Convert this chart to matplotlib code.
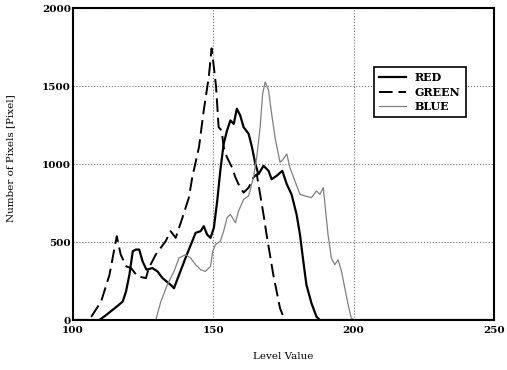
import matplotlib.pyplot as plt

# level value / pixel count
red_x = [100, 109.4, 111.8, 114.8, 117.7, 118.9, 120.1, 121.3, 122.4, 123.6, 124.8, 126.2,
         128.3, 130.1, 131.9, 134.8, 136.0, 137.8, 140.1, 142.5, 143.7, 145.5, 146.6,
         147.8, 149.0, 150.2, 151.4, 152.5, 153.7, 154.9, 156.1, 157.3, 158.4, 159.6,
         160.8, 162.6, 163.8, 165.0, 166.1, 167.9, 169.7, 170.8, 172.6, 174.6, 176.2,
         177.9, 179.7, 180.9, 182.1, 183.2, 185.0, 186.8, 188.0, 250]
red_y = [0, 0, 32, 75, 118, 183, 290, 441, 452, 452, 376, 323,
         333, 312, 269, 226, 204, 290, 398, 505, 559, 570, 602,
         548, 527, 591, 763, 957, 1129, 1215, 1280, 1258, 1355, 1312,
         1237, 1194, 1108, 1000, 935, 989, 957, 903, 925, 957, 871,
         806, 677, 548, 376, 226, 108, 21, 0, 0]

green_x = [100, 105.3, 106.5, 110.0, 113.0, 114.8, 115.6, 117.0, 119.0, 120.7, 123.0, 126.0,
           127.0, 129.5, 133.0, 134.8, 136.6, 139.0, 141.3, 142.5, 144.9, 146.6, 148.4,
           149.4, 150.2, 151.0, 151.9, 153.0, 153.7, 154.9, 156.7, 157.9, 159.0, 160.8,
           162.6, 164.3, 165.5, 166.7, 167.9, 169.0, 170.2, 171.4, 172.6, 173.8, 175.0,
           176.0, 250]
green_y = [0, 0, 21, 118, 290, 462, 538, 420, 344, 333, 280, 269,
           333, 420, 505, 570, 527, 656, 785, 914, 1108, 1344, 1559,
           1742, 1624, 1495, 1237, 1215, 1108, 1043, 978, 914, 871, 817,
           849, 914, 935, 806, 677, 548, 419, 290, 183, 75, 21,
           0, 0]

blue_x = [100, 129.5, 131.3, 133.6, 136.0, 137.8, 140.1, 141.9, 143.7, 145.5, 147.2, 149.0,
          149.8, 150.8, 152.5, 153.7, 154.9, 156.1, 157.9, 159.0, 160.8, 162.6, 164.3,
          165.5, 166.7, 167.6, 168.5, 169.7, 170.8, 172.0, 173.8, 175.0, 176.2, 177.3,
          179.1, 180.9, 182.7, 185.0, 186.8, 188.0, 189.2, 189.7, 190.9, 192.1, 193.3,
          194.5, 195.7, 196.9, 198.1, 199.2, 200.4, 250]
blue_y = [0, 0, 118, 226, 312, 398, 419, 398, 355, 323, 312, 344,
          441, 484, 505, 570, 656, 677, 624, 699, 774, 796, 914,
          1043, 1237, 1452, 1527, 1473, 1323, 1172, 1011, 1032, 1065, 978,
          892, 806, 796, 785, 828, 806, 849, 763, 548, 398, 355,
          387, 312, 204, 97, 11, 0, 0]

plt.rcParams['font.family'] = ['DejaVu Serif']

fig = plt.figure(figsize=(5.07, 3.70), dpi=100)
ax = fig.add_axes([0.144, 0.135, 0.830, 0.843])

ax.plot(red_x, red_y, color='black', lw=1.6, label='RED')
ax.plot(green_x, green_y, color='black', lw=1.4, ls=(0, (7, 3)), label='GREEN')
ax.plot(blue_x, blue_y, color='0.5', lw=0.9, label='BLUE')

ax.set_xlim(100, 250)
ax.set_ylim(0, 2000)
ax.set_xticks([100, 150, 200, 250])
ax.set_yticks([0, 500, 1000, 1500, 2000])
ax.tick_params(length=0, labelsize=7.5)
ax.tick_params(axis='x', pad=4)
ax.tick_params(axis='y', pad=1.5)
for lab in ax.get_xticklabels() + ax.get_yticklabels():
    lab.set_fontweight('bold')
ax.grid(True, color='0.45', ls=':', lw=0.8)

for sp in ax.spines.values():
    sp.set_linewidth(1.5)

ax.set_xlabel('Level Value', fontsize=7.5)
ax.set_ylabel('Number of Pixels [Pixel]', fontsize=7.5)
ax.xaxis.set_label_coords(0.5, -0.103)
ax.yaxis.set_label_coords(-0.138, 0.52)

leg = ax.legend(loc='upper right', bbox_to_anchor=(0.947, 0.83),
                prop={'size': 8, 'weight': 'bold'},
                frameon=True, fancybox=False, edgecolor='black', framealpha=1,
                handlelength=2.4, borderpad=0.5, labelspacing=0.3)
leg.get_frame().set_linewidth(1.2)

fig.savefig('out.png', dpi=100)
